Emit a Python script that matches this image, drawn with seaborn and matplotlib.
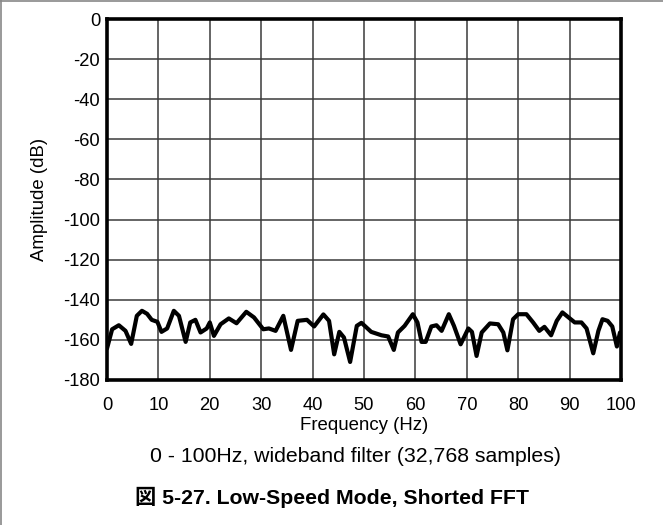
import matplotlib
matplotlib.use("Agg")
import matplotlib.pyplot as plt
from matplotlib.lines import Line2D
import numpy as np
import pandas as pd
import seaborn as sns

# Shorted-input FFT spectrum
FREQ_HZ = [0.0, 1.0, 2.3, 3.6, 4.7, 5.8, 6.8, 7.8, 8.7, 9.8,
           10.6, 11.7, 13.0, 14.0, 15.3, 16.2, 17.2, 18.2, 19.4, 20.0,
           20.8, 22.1, 23.7, 25.2, 27.1, 28.6, 30.4, 31.5, 32.8, 34.3,
           35.8, 37.1, 38.9, 40.3, 42.1, 43.2, 44.2, 45.2, 46.1, 47.3,
           48.6, 49.5, 51.4, 53.4, 54.7, 55.8, 56.6, 57.9, 59.5, 60.4,
           61.2, 62.0, 63.1, 64.1, 65.1, 66.5, 67.5, 68.8, 70.3, 71.0,
           71.9, 72.9, 74.5, 76.1, 77.1, 77.9, 79.0, 80.0, 81.6, 82.9,
           84.1, 85.1, 86.4, 87.5, 88.6, 89.8, 91.0, 92.3, 93.3, 94.6,
           95.6, 96.4, 97.4, 98.3, 99.2, 99.8]
AMPLITUDE_DB = [-164.3, -154.7, -152.7, -155.5, -162.0, -148.0, -145.5, -147.0, -150.0, -151.0,
                -156.0, -154.3, -145.5, -148.0, -161.0, -151.3, -150.0, -156.3, -154.3, -151.3,
                -158.0, -152.2, -149.3, -151.7, -146.0, -148.8, -154.7, -154.3, -155.5, -148.0,
                -165.0, -150.5, -150.0, -153.3, -147.3, -150.5, -167.2, -156.0, -158.8, -171.0,
                -153.0, -151.5, -156.0, -157.7, -158.3, -165.0, -156.3, -153.0, -147.2, -151.3,
                -161.0, -161.0, -153.3, -152.7, -155.5, -147.2, -153.0, -162.2, -154.3, -156.0,
                -168.0, -156.3, -151.8, -152.2, -156.3, -165.2, -149.7, -147.2, -147.2, -151.3,
                -155.5, -153.5, -157.7, -150.5, -146.3, -148.8, -151.3, -151.3, -154.3, -166.7,
                -155.5, -149.7, -150.5, -153.3, -163.3, -156.3]

X_TICKS = list(range(0, 101, 10))
Y_TICKS = list(range(-180, 1, 20))

SUBTITLE = "0 - 100Hz, wideband filter (32,768 samples)"
CAPTION = "図 5-27. Low-Speed Mode, Shorted FFT"

sns.set_theme(style="white")
plt.rcParams["font.family"] = ["Liberation Sans", "Noto Sans CJK JP", "DejaVu Sans"]
plt.rcParams["axes.unicode_minus"] = False
plt.rcParams["text.color"] = "black"

df = pd.DataFrame({"freq": FREQ_HZ, "amp": AMPLITUDE_DB})

fig = plt.figure(figsize=(6.63, 5.25), dpi=100)
ax = fig.add_axes([107 / 663, 1 - 380 / 525, (621 - 107) / 663, (380 - 19) / 525])

sns.lineplot(data=df, x="freq", y="amp", ax=ax, color="black", linewidth=3.0,
             solid_joinstyle="round", estimator=None, sort=False)

ax.set_xlim(0, 100)
ax.set_ylim(-180, 0)
ax.set_xticks(X_TICKS)
ax.set_yticks(Y_TICKS)
ax.tick_params(axis="both", length=0, labelsize=13.2, colors="black")
ax.tick_params(axis="x", pad=12.5)
ax.tick_params(axis="y", pad=5)
ax.grid(True, color="#3a3a3a", linewidth=1.1)
for side in ax.spines.values():
    side.set_visible(True)
    side.set_color("black")
    side.set_linewidth(2.6)

ax.set_xlabel("Frequency (Hz)", fontsize=13.4, color="black", labelpad=2)
ax.set_ylabel("Amplitude (dB)", fontsize=13.4, color="black", labelpad=11)

fig.text(356 / 663, 1 - 457 / 525, SUBTITLE, ha="center", va="center", fontsize=15.3,
         color="black")
fig.text(332 / 663, 1 - 497 / 525, CAPTION, ha="center", va="center", fontsize=15.3,
         fontweight="bold", color="black")

# thin grey frame on top and left of the page
fig.add_artist(Line2D([0, 1], [0.998, 0.998], color="#888888", linewidth=1.2,
                      transform=fig.transFigure))
fig.add_artist(Line2D([0.002, 0.002], [0, 1], color="#888888", linewidth=1.2,
                      transform=fig.transFigure))

fig.savefig("out.png", dpi=100)
